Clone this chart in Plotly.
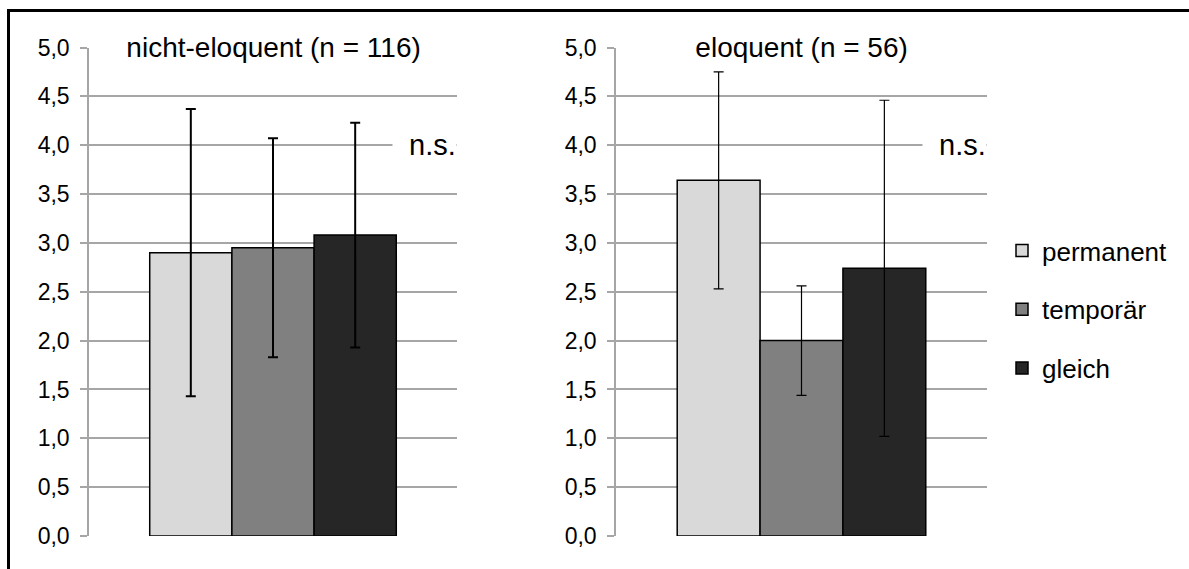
import plotly.graph_objects as go

# ---- data ----
series = ["permanent", "temporär", "gleich"]
colors = ["#D9D9D9", "#808080", "#262626"]
panel_titles = ["nicht-eloquent (n = 116)", "eloquent (n = 56)"]
sig_labels = ["n.s.", "n.s."]
means_nicht = [2.90, 2.95, 3.08]
sd_nicht = [1.47, 1.12, 1.15]
means_elo = [3.64, 2.00, 2.74]
sd_elo = [1.11, 0.56, 1.72]
yticks = [0.0, 0.5, 1.0, 1.5, 2.0, 2.5, 3.0, 3.5, 4.0, 4.5, 5.0]
category = [""]

W, H = 1189, 569
fig = go.Figure()

panels = [(means_nicht, sd_nicht, "x", "y", 2.0), (means_elo, sd_elo, "x2", "y2", 1.2)]
for p, (means, sds, xa, ya, ew) in enumerate(panels):
    for i, name in enumerate(series):
        fig.add_trace(go.Bar(
            x=category, y=[means[i]], name=name,
            marker=dict(color=colors[i], line=dict(color="black", width=1.5)),
            error_y=dict(type="data", array=[sds[i]], visible=True,
                         color="black", thickness=ew, width=5),
            xaxis=xa, yaxis=ya, legendgroup=name, showlegend=(p == 0),
        ))

grid = "#A6A6A6"
ydom = [33 / H, 1 - 47.5 / H]
yax = dict(range=[0, 5], domain=ydom, tickvals=yticks, tickformat=".1f",
           showgrid=True, gridcolor=grid, gridwidth=1.5,
           showline=True, linecolor=grid, linewidth=1.5,
           ticks="outside", ticklen=7, tickcolor=grid, tickwidth=1.5,
           zeroline=False, ticklabelstandoff=6, automargin=False,
           tickfont=dict(family="Liberation Sans, Arial", size=23, color="black"))
xax = dict(showticklabels=False, showgrid=False, zeroline=False, showline=False,
           ticks="", automargin=False)

fig.update_layout(
    width=W, height=H,
    margin=dict(l=0, r=0, t=0, b=0, autoexpand=False),
    paper_bgcolor="white", plot_bgcolor="white",
    separators=",.",
    barmode="group", bargap=0.33, bargroupgap=0,
    font=dict(family="Liberation Sans, Arial", color="black"),
    xaxis=dict(domain=[89 / W, 457 / W], anchor="y", **xax),
    xaxis2=dict(domain=[616 / W, 987 / W], anchor="y2", **xax),
    yaxis=dict(anchor="x", **yax),
    yaxis2=dict(anchor="x2", **yax),
    legend=dict(x=1002 / W, xanchor="left", y=1 - 227 / H, yanchor="top",
                font=dict(size=26, color="black"), tracegroupgap=22,
                bgcolor="rgba(0,0,0,0)"),
    showlegend=True,
)

nb = "\u00a0"
for p, (xa, ya) in enumerate([("x", "y"), ("x2", "y2")]):
    fig.add_annotation(xref=f"{xa} domain", yref=ya, x=0.5, y=5.0,
                       text=nb * 3 + panel_titles[p] + nb * 3, showarrow=False,
                       xanchor="center", yanchor="middle", bgcolor="white",
                       borderpad=0, font=dict(size=28, color="black"))
    fig.add_annotation(xref=f"{xa} domain", yref=ya, x=1.0, y=4.0,
                       text=nb * 2 + sig_labels[p], showarrow=False,
                       xanchor="right", yanchor="middle", bgcolor="white",
                       borderpad=0, font=dict(size=29, color="black"))

fig.add_shape(type="rect", xref="paper", yref="paper",
              x0=8.5 / W, x1=1.05, y0=-0.05, y1=1 - 10.5 / H,
              line=dict(color="black", width=3), fillcolor="rgba(0,0,0,0)")

fig.write_html("out.html", config={"displayModeBar": False},
               post_script="document.body.style.margin='0';")
